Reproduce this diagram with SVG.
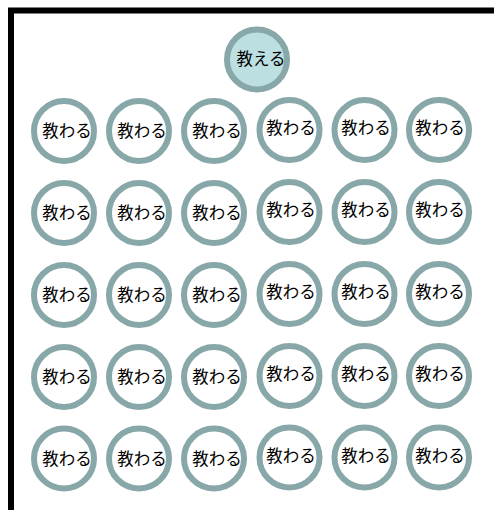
<svg xmlns="http://www.w3.org/2000/svg" width="494" height="510" viewBox="0 0 494 510">
<style>
.c{fill:#ffffff;stroke:#88a7a9;stroke-width:6}
.t{fill:#bcdfe2;stroke:#88a7a9;stroke-width:6}
text{font-family:"Noto Sans CJK JP","Noto Sans",sans-serif;font-size:16.5px;fill:#000;text-anchor:middle}
</style>
<rect x="0" y="0" width="494" height="510" fill="#ffffff"/>
<rect x="11" y="10.5" width="520" height="540" fill="none" stroke="#000" stroke-width="6"/>
<g id="teacher"><circle class="t" cx="257" cy="59.5" r="30"/><text x="261" y="65">教える</text></g>
<g id="r1c1"><circle class="c" cx="64" cy="131" r="30"/><text x="67" y="137">教わる</text></g>
<g id="r1c2"><circle class="c" cx="139" cy="131" r="30"/><text x="142" y="137">教わる</text></g>
<g id="r1c3"><circle class="c" cx="214" cy="131" r="30"/><text x="217" y="137">教わる</text></g>
<g id="r1c4"><circle class="c" cx="289.5" cy="130" r="30"/><text x="291" y="134">教わる</text></g>
<g id="r1c5"><circle class="c" cx="364.5" cy="130" r="30"/><text x="366" y="134">教わる</text></g>
<g id="r1c6"><circle class="c" cx="439" cy="130" r="30"/><text x="440" y="134">教わる</text></g>
<g id="r2c1"><circle class="c" cx="64" cy="213" r="30"/><text x="67" y="219">教わる</text></g>
<g id="r2c2"><circle class="c" cx="139" cy="213" r="30"/><text x="142" y="219">教わる</text></g>
<g id="r2c3"><circle class="c" cx="214" cy="213" r="30"/><text x="217" y="219">教わる</text></g>
<g id="r2c4"><circle class="c" cx="289.5" cy="212" r="30"/><text x="291" y="216">教わる</text></g>
<g id="r2c5"><circle class="c" cx="364.5" cy="212" r="30"/><text x="366" y="216">教わる</text></g>
<g id="r2c6"><circle class="c" cx="439" cy="212" r="30"/><text x="440" y="216">教わる</text></g>
<g id="r3c1"><circle class="c" cx="64" cy="295" r="30"/><text x="67" y="301">教わる</text></g>
<g id="r3c2"><circle class="c" cx="139" cy="295" r="30"/><text x="142" y="301">教わる</text></g>
<g id="r3c3"><circle class="c" cx="214" cy="295" r="30"/><text x="217" y="301">教わる</text></g>
<g id="r3c4"><circle class="c" cx="289.5" cy="294" r="30"/><text x="291" y="298">教わる</text></g>
<g id="r3c5"><circle class="c" cx="364.5" cy="294" r="30"/><text x="366" y="298">教わる</text></g>
<g id="r3c6"><circle class="c" cx="439" cy="294" r="30"/><text x="440" y="298">教わる</text></g>
<g id="r4c1"><circle class="c" cx="64" cy="377" r="30"/><text x="67" y="383">教わる</text></g>
<g id="r4c2"><circle class="c" cx="139" cy="377" r="30"/><text x="142" y="383">教わる</text></g>
<g id="r4c3"><circle class="c" cx="214" cy="377" r="30"/><text x="217" y="383">教わる</text></g>
<g id="r4c4"><circle class="c" cx="289.5" cy="376" r="30"/><text x="291" y="380">教わる</text></g>
<g id="r4c5"><circle class="c" cx="364.5" cy="376" r="30"/><text x="366" y="380">教わる</text></g>
<g id="r4c6"><circle class="c" cx="439" cy="376" r="30"/><text x="440" y="380">教わる</text></g>
<g id="r5c1"><circle class="c" cx="64" cy="458.5" r="30"/><text x="67" y="464.5">教わる</text></g>
<g id="r5c2"><circle class="c" cx="139" cy="458.5" r="30"/><text x="142" y="464.5">教わる</text></g>
<g id="r5c3"><circle class="c" cx="214" cy="458.5" r="30"/><text x="217" y="464.5">教わる</text></g>
<g id="r5c4"><circle class="c" cx="289.5" cy="457.5" r="30"/><text x="291" y="461.5">教わる</text></g>
<g id="r5c5"><circle class="c" cx="364.5" cy="457.5" r="30"/><text x="366" y="461.5">教わる</text></g>
<g id="r5c6"><circle class="c" cx="439" cy="457.5" r="30"/><text x="440" y="461.5">教わる</text></g>
<g id="connectors"/>
</svg>
